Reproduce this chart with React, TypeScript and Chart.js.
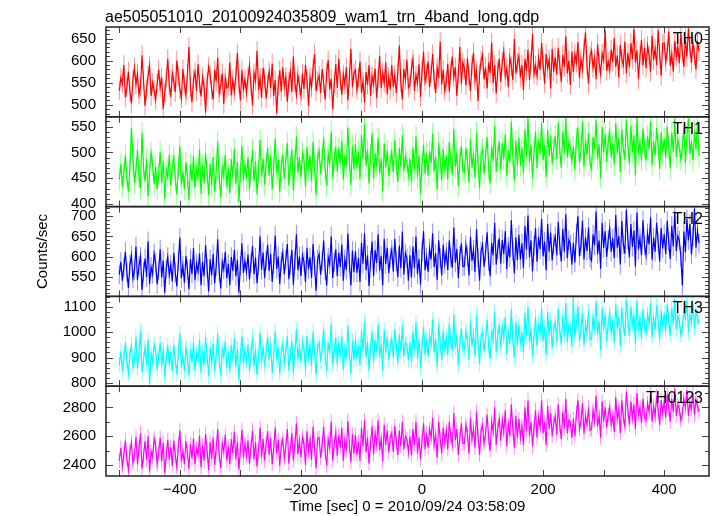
import React, { useEffect, useRef } from 'react';
import { Chart, registerables } from 'chart.js';

Chart.register(...registerables);

const FONT = '"Liberation Sans", Arial, Helvetica, sans-serif';
const TITLE = 'ae505051010_20100924035809_wam1_trn_4band_long.qdp';
const X_LABEL = 'Time [sec] 0 = 2010/09/24 03:58:09';
const Y_LABEL = 'Counts/sec';

const T_START = -500;
const T_STEP = 2.5;
const X_MIN = -522;
const X_MAX = 474;
const xTickValues = [-400, -200, 0, 200, 400];
const X_MINOR_STEP = 100;

const panelNames = ['TH0', 'TH1', 'TH2', 'TH3', 'TH0123'];
const panelColors = ['#ff0000', '#00ff00', '#0000ff', '#00ffff', '#ff00ff'];
const errColors = ['rgba(255,0,0,0.45)', 'rgba(0,255,0,0.45)', 'rgba(0,0,255,0.45)', 'rgba(0,255,255,0.5)', 'rgba(255,0,255,0.45)'];
const yMins = [473, 395, 501, 787, 2324];
const yMaxs = [676, 569, 724, 1141, 2947];
const yTickValues = [
  [500, 550, 600, 650],
  [400, 450, 500, 550],
  [550, 600, 650, 700],
  [800, 900, 1000, 1100],
  [2400, 2600, 2800],
];
const yMinor = [10, 10, 10, 20, 100];
const yMajor = [50, 50, 50, 100, 200];
const yErr = [22, 21, 24, 30, 50];

const th0 = [
  532, 561, 548, 590, 517, 540, 575, 529, 503, 558, 584, 546,
  570, 523, 541, 612, 555, 498, 536, 567, 589, 520, 550, 533,
  511, 548, 580, 539, 562, 491, 527, 559, 604, 544, 518, 571,
  553, 529, 600, 565, 536, 514, 581, 547, 522, 569, 631, 540,
  506, 557, 574, 531, 592, 548, 519, 563, 540, 483, 552, 586,
  568, 535, 512, 579, 553, 607, 526, 545, 571, 502, 560, 538,
  542, 596, 521, 556, 530, 565, 617, 549, 510, 578, 536, 557,
  527, 563, 589, 541, 500, 572, 555, 622, 534, 561, 516, 583,
  559, 514, 547, 576, 538, 593, 520, 556, 481, 545, 578, 530,
  585, 541, 563, 507, 552, 575, 529, 609, 550, 523, 566, 544,
  520, 571, 536, 590, 558, 497, 562, 540, 583, 615, 531, 554,
  566, 527, 581, 549, 512, 573, 601, 535, 559, 490, 548, 592,
  538, 604, 555, 523, 569, 546, 585, 510, 561, 627, 540, 572,
  579, 534, 561, 598, 527, 553, 506, 574, 545, 590, 520, 566,
  547, 582, 515, 560, 611, 538, 572, 549, 596, 524, 563, 535,
  590, 541, 568, 527, 575, 634, 550, 512, 581, 557, 602, 539,
  545, 583, 603, 531, 567, 550, 592, 518, 576, 620, 553, 571,
  598, 540, 572, 615, 556, 527, 584, 561, 643, 546, 579, 532,
  551, 593, 530, 578, 609, 562, 585, 520, 570, 631, 548, 596,
  582, 544, 605, 566, 531, 590, 618, 555, 576, 509, 569, 600,
  613, 558, 585, 537, 596, 572, 641, 549, 590, 526, 575, 604,
  552, 598, 621, 565, 583, 540, 607, 587, 556, 649, 571, 595,
  610, 562, 590, 533, 604, 577, 625, 556, 598, 660, 570, 589,
  565, 606, 579, 640, 591, 548, 615, 583, 602, 537, 627, 575,
  608, 569, 629, 590, 552, 613, 586, 655, 571, 600, 545, 620,
  574, 615, 596, 642, 560, 603, 581, 627, 664, 589, 548, 610,
  622, 583, 605, 558, 637, 594, 570, 616, 601, 668, 577, 598,
  579, 625, 597, 651, 586, 612, 562, 635, 604, 590, 643, 571,
  617, 585, 640, 603, 672, 596, 623, 558, 611, 647, 589, 629,
  583, 634, 612, 574, 656, 601, 627, 590, 669, 615, 566, 638,
  640, 597, 621, 666, 588, 615, 575, 645, 609, 631, 594, 662,
  618, 586, 650, 609, 673, 628, 595, 639, 612, 580, 645, 621,
];

const th1 = [
  447, 478, 433, 462, 494, 451, 425, 470, 548, 489, 441, 466,
  505, 452, 430, 538, 470, 444, 487, 415, 461, 499, 476, 438,
  472, 429, 458, 501, 441, 483, 410, 467, 452, 495, 436, 474,
  490, 446, 419, 470, 512, 437, 463, 428, 481, 455, 408, 477,
  444, 493, 431, 468, 452, 506, 420, 475, 440, 498, 461, 417,
  478, 436, 491, 424, 464, 521, 449, 413, 472, 455, 496, 433,
  469, 421, 487, 450, 507, 439, 481, 404, 460, 512, 446, 476,
  450, 491, 429, 468, 505, 444, 483, 419, 465, 524, 453, 488,
  438, 479, 509, 455, 493, 428, 470, 527, 460, 486, 423, 474,
  496, 449, 484, 518, 436, 471, 505, 426, 480, 531, 461, 491,
  452, 499, 485, 434, 511, 466, 494, 444, 520, 472, 418, 489,
  503, 458, 490, 529, 467, 435, 498, 480, 540, 450, 487, 511,
  462, 509, 479, 523, 447, 495, 473, 548, 486, 436, 513, 467,
  516, 470, 501, 448, 533, 488, 555, 474, 505, 440, 494, 537,
  449, 498, 473, 528, 459, 488, 425, 517, 471, 503, 454, 482,
  500, 461, 524, 478, 443, 509, 472, 533, 464, 492, 481, 455,
  487, 443, 510, 466, 531, 452, 494, 420, 476, 515, 458, 498,
  455, 502, 479, 536, 463, 492, 428, 519, 484, 446, 507, 470,
  493, 447, 520, 481, 458, 546, 472, 500, 435, 488, 512, 465,
  461, 509, 484, 442, 525, 470, 498, 451, 538, 479, 430, 496,
  507, 458, 492, 530, 468, 440, 512, 483, 551, 462, 495, 521,
  466, 518, 487, 535, 454, 503, 481, 560, 494, 445, 522, 475,
  528, 474, 510, 459, 545, 492, 566, 481, 515, 450, 503, 540,
  470, 525, 497, 557, 485, 514, 452, 544, 493, 531, 478, 508,
  532, 487, 558, 505, 470, 541, 498, 566, 490, 520, 509, 483,
  511, 466, 527, 548, 480, 503, 560, 472, 525, 495, 538, 478,
  468, 530, 505, 563, 487, 516, 451, 549, 500, 535, 482, 521,
  540, 490, 518, 476, 557, 499, 528, 462, 545, 507, 486, 563,
  515, 478, 552, 501, 533, 456, 568, 497, 520, 485, 546, 508,
  484, 531, 506, 560, 475, 522, 494, 547, 513, 468, 539, 500,
  527, 489, 550, 512, 470, 538, 501, 565, 491, 524, 510, 486,
  512, 548, 479, 531, 566, 497, 522, 485, 543, 505, 560, 493,
];

const th2 = [
  555, 587, 540, 573, 612, 561, 522, 580, 603, 546, 566, 625,
  541, 578, 600, 517, 562, 595, 549, 638, 531, 574, 557, 607,
  584, 531, 566, 618, 548, 590, 510, 571, 599, 554, 580, 538,
  609, 560, 526, 588, 647, 546, 577, 535, 601, 567, 519, 594,
  557, 621, 541, 582, 563, 608, 529, 587, 551, 628, 571, 513,
  593, 553, 606, 534, 576, 643, 561, 521, 586, 568, 612, 546,
  582, 529, 599, 565, 617, 551, 592, 511, 577, 633, 559, 589,
  562, 605, 543, 584, 626, 556, 598, 534, 579, 650, 567, 610,
  547, 591, 629, 564, 607, 537, 583, 652, 569, 600, 531, 588,
  609, 556, 592, 631, 544, 578, 617, 530, 589, 655, 566, 600,
  552, 603, 587, 536, 622, 568, 598, 547, 631, 577, 515, 593,
  606, 555, 589, 640, 566, 528, 598, 581, 650, 547, 586, 618,
  551, 609, 574, 630, 540, 593, 567, 657, 583, 528, 615, 561,
  613, 560, 597, 537, 634, 582, 658, 566, 603, 527, 590, 637,
  551, 616, 584, 655, 565, 602, 528, 644, 581, 622, 559, 597,
  617, 563, 644, 588, 549, 627, 571, 662, 555, 608, 596, 540,
  603, 548, 625, 571, 650, 556, 594, 530, 612, 663, 566, 598,
  562, 620, 593, 658, 574, 608, 541, 640, 597, 553, 629, 582,
  611, 566, 640, 598, 572, 672, 585, 619, 546, 603, 633, 575,
  576, 628, 601, 553, 649, 589, 617, 562, 668, 597, 540, 613,
  629, 575, 612, 660, 588, 551, 634, 603, 684, 580, 617, 645,
  582, 641, 606, 663, 569, 625, 598, 690, 614, 558, 647, 591,
  654, 592, 633, 571, 676, 617, 702, 598, 640, 563, 626, 671,
  587, 649, 618, 694, 601, 637, 566, 681, 612, 659, 590, 631,
  650, 603, 686, 627, 588, 669, 612, 705, 596, 641, 630, 580,
  634, 585, 657, 700, 601, 625, 689, 593, 648, 614, 672, 597,
  590, 655, 628, 712, 606, 640, 570, 684, 621, 663, 599, 642,
  669, 612, 645, 596, 703, 622, 651, 580, 688, 630, 607, 716,
  642, 598, 681, 624, 664, 575, 709, 617, 646, 603, 690, 628,
  603, 658, 630, 697, 592, 647, 612, 684, 636, 588, 671, 620,
  655, 606, 689, 637, 594, 676, 625, 711, 613, 651, 640, 600,
  528, 662, 611, 693, 640, 681, 605, 650, 719, 622, 664, 633,
];

const th3 = [
  872, 925, 848, 899, 960, 884, 838, 913, 948, 863, 893, 980,
  857, 918, 1005, 842, 890, 941, 871, 970, 795, 913, 884, 952,
  928, 852, 903, 958, 866, 933, 822, 899, 948, 871, 923, 847,
  950, 888, 836, 921, 995, 861, 907, 846, 941, 898, 829, 930,
  881, 960, 849, 915, 892, 970, 838, 926, 868, 980, 906, 826,
  940, 873, 955, 848, 911, 993, 887, 829, 931, 902, 964, 858,
  920, 845, 948, 893, 975, 864, 937, 812, 907, 986, 875, 931,
  885, 950, 846, 914, 980, 866, 934, 831, 905, 999, 881, 944,
  864, 928, 981, 890, 953, 840, 908, 1005, 893, 942, 836, 921,
  955, 878, 926, 984, 849, 912, 966, 838, 921, 1010, 892, 946,
  881, 960, 936, 851, 985, 906, 950, 867, 1000, 921, 832, 944,
  958, 885, 939, 1012, 900, 847, 952, 925, 1035, 870, 930, 980,
  873, 960, 907, 985, 852, 937, 898, 1025, 918, 836, 965, 889,
  975, 893, 946, 868, 1005, 927, 1040, 902, 960, 848, 937, 1000,
  882, 970, 925, 1030, 900, 955, 850, 1010, 920, 980, 890, 945,
  975, 900, 1010, 940, 880, 990, 925, 1025, 905, 960, 950, 890,
  960, 885, 1000, 930, 1040, 895, 970, 860, 945, 1020, 910, 975,
  905, 985, 950, 1050, 920, 975, 865, 1030, 955, 890, 1005, 935,
  980, 910, 1035, 965, 925, 1070, 940, 990, 870, 955, 1015, 930,
  930, 1005, 965, 890, 1045, 945, 990, 905, 1065, 960, 875, 985,
  1000, 925, 975, 1050, 945, 895, 1010, 970, 1080, 920, 985, 1030,
  940, 1025, 980, 1060, 915, 1005, 955, 1090, 975, 900, 1040, 950,
  1030, 950, 1000, 920, 1075, 985, 1100, 960, 1015, 905, 990, 1060,
  945, 1035, 990, 1095, 965, 1020, 910, 1080, 985, 1050, 940, 1005,
  1040, 965, 1090, 1010, 950, 1065, 985, 1115, 960, 1030, 1020, 945,
  1138, 980, 1040, 1100, 965, 1010, 1075, 950, 1030, 995, 1085, 970,
  975, 1060, 1020, 1120, 990, 1045, 930, 1095, 1010, 1070, 965, 1035,
  1075, 995, 1040, 960, 1110, 1015, 1060, 945, 1095, 1025, 985, 1130,
  1045, 985, 1100, 1030, 1070, 955, 1125, 1010, 1055, 975, 1090, 1025,
  995, 1070, 1035, 1115, 980, 1060, 1010, 1105, 1040, 970, 1085, 1020,
  1075, 1005, 1110, 1050, 985, 1095, 1030, 1130, 1010, 1065, 1045, 990,
  1020, 1085, 1055, 1125, 1000, 1070, 1040, 1110, 1015, 1080, 1060, 1035,
];

const th0123 = [
  2430, 2520, 2390, 2475, 2570, 2445, 2365, 2495, 2555, 2415, 2470, 2595,
  2405, 2515, 2620, 2375, 2465, 2565, 2435, 2600, 2355, 2495, 2455, 2585,
  2535, 2405, 2485, 2590, 2425, 2555, 2345, 2475, 2575, 2435, 2525, 2395,
  2570, 2465, 2385, 2535, 2640, 2425, 2495, 2405, 2565, 2485, 2375, 2545,
  2445, 2585, 2405, 2515, 2470, 2605, 2385, 2535, 2430, 2615, 2495, 2365,
  2560, 2440, 2590, 2400, 2515, 2650, 2465, 2380, 2550, 2495, 2610, 2430,
  2530, 2405, 2580, 2480, 2630, 2440, 2560, 2370, 2505, 2645, 2450, 2550,
  2465, 2570, 2410, 2525, 2640, 2440, 2560, 2390, 2505, 2660, 2455, 2580,
  2430, 2545, 2635, 2470, 2585, 2405, 2515, 2660, 2480, 2575, 2395, 2535,
  2580, 2445, 2530, 2650, 2410, 2515, 2620, 2430, 2545, 2690, 2475, 2570,
  2455, 2595, 2545, 2400, 2635, 2495, 2575, 2435, 2665, 2515, 2380, 2585,
  2590, 2450, 2540, 2665, 2490, 2395, 2580, 2520, 2700, 2430, 2550, 2625,
  2465, 2610, 2520, 2660, 2430, 2570, 2500, 2705, 2540, 2420, 2615, 2480,
  2610, 2470, 2560, 2430, 2660, 2530, 2710, 2490, 2590, 2410, 2550, 2670,
  2475, 2620, 2545, 2710, 2505, 2580, 2425, 2680, 2540, 2640, 2490, 2590,
  2620, 2490, 2670, 2560, 2470, 2640, 2530, 2700, 2510, 2600, 2580, 2490,
  2600, 2470, 2650, 2540, 2700, 2480, 2590, 2440, 2570, 2690, 2510, 2620,
  2520, 2650, 2590, 2730, 2540, 2610, 2450, 2700, 2580, 2480, 2660, 2560,
  2640, 2510, 2700, 2600, 2540, 2760, 2570, 2650, 2470, 2590, 2690, 2550,
  2550, 2680, 2610, 2480, 2730, 2580, 2650, 2520, 2770, 2600, 2470, 2640,
  2680, 2550, 2620, 2750, 2590, 2500, 2700, 2630, 2800, 2540, 2650, 2720,
  2570, 2710, 2630, 2780, 2530, 2680, 2600, 2820, 2650, 2520, 2740, 2590,
  2720, 2590, 2670, 2540, 2800, 2640, 2850, 2600, 2700, 2530, 2660, 2780,
  2590, 2730, 2660, 2850, 2620, 2700, 2540, 2810, 2650, 2760, 2600, 2690,
  2740, 2610, 2820, 2680, 2580, 2770, 2650, 2860, 2620, 2710, 2700, 2590,
  2720, 2600, 2760, 2850, 2650, 2700, 2830, 2620, 2740, 2680, 2800, 2640,
  2650, 2780, 2710, 2880, 2670, 2740, 2590, 2840, 2700, 2800, 2660, 2750,
  2800, 2680, 2740, 2630, 2870, 2720, 2790, 2620, 2850, 2730, 2670, 2910,
  2780, 2680, 2840, 2730, 2820, 2650, 2900, 2750, 2800, 2690, 2860, 2740,
  2710, 2830, 2770, 2900, 2700, 2810, 2740, 2880, 2780, 2680, 2850, 2760,
  2840, 2730, 2890, 2800, 2700, 2860, 2770, 2930, 2740, 2820, 2790, 2710,
  2760, 2860, 2800, 2920, 2740, 2830, 2790, 2900, 2750, 2850, 2810, 2770,
];

const seriesValues = [th0, th1, th2, th3, th0123];

const fmt = (v: number) => String(v).replace('-', '\u2212');

const errorBarPlugin = {
  id: 'qdpErrorBars',
  beforeDatasetsDraw(chart: any) {
    const ctx = chart.ctx as CanvasRenderingContext2D;
    const xs = chart.scales.x;
    ctx.save();
    ctx.lineWidth = 1;
    seriesValues.forEach((vals, i) => {
      const ys = chart.scales['y' + i];
      ctx.strokeStyle = errColors[i];
      ctx.beginPath();
      vals.forEach((v, k) => {
        const px = xs.getPixelForValue(T_START + k * T_STEP);
        const y1 = Math.max(ys.top, ys.getPixelForValue(v + yErr[i]));
        const y2 = Math.min(ys.bottom, ys.getPixelForValue(v - yErr[i]));
        ctx.moveTo(px, y1);
        ctx.lineTo(px, y2);
      });
      ctx.stroke();
    });
    ctx.restore();
  },
};

const framePlugin = {
  id: 'qdpFrames',
  afterDraw(chart: any) {
    const ctx = chart.ctx as CanvasRenderingContext2D;
    const { left, right, top: areaTop, bottom: areaBottom } = chart.chartArea;
    const xs = chart.scales.x;
    ctx.save();
    panelNames.forEach((name, i) => {
      const ys = chart.scales['y' + i];
      const top = ys.top;
      const bottom = ys.bottom;
      ctx.strokeStyle = '#444';
      ctx.lineWidth = 1;
      ctx.beginPath();
      for (let t = Math.ceil(X_MIN / X_MINOR_STEP) * X_MINOR_STEP; t <= X_MAX; t += X_MINOR_STEP) {
        const px = Math.round(xs.getPixelForValue(t)) + 0.5;
        ctx.moveTo(px, top);
        ctx.lineTo(px, top + 6);
        ctx.moveTo(px, bottom);
        ctx.lineTo(px, bottom - 6);
      }
      const mn = yMinor[i];
      for (let v = Math.ceil(yMins[i] / mn) * mn; v <= yMaxs[i]; v += mn) {
        const py = Math.round(ys.getPixelForValue(v)) + 0.5;
        const len = v % yMajor[i] === 0 ? 7 : 4;
        ctx.moveTo(left, py);
        ctx.lineTo(left + len, py);
        ctx.moveTo(right, py);
        ctx.lineTo(right - len, py);
      }
      ctx.stroke();
      ctx.strokeStyle = '#222';
      ctx.lineWidth = 1.5;
      ctx.strokeRect(left, top, right - left, bottom - top);
      ctx.fillStyle = '#000';
      ctx.font = '16px ' + FONT;
      ctx.textAlign = 'right';
      ctx.textBaseline = 'alphabetic';
      ctx.fillText(name, right - 6, top + 17);
    });
    ctx.fillStyle = '#000';
    ctx.font = '16px ' + FONT;
    ctx.textAlign = 'left';
    ctx.textBaseline = 'alphabetic';
    ctx.fillText(TITLE, 105, 22);
    ctx.save();
    ctx.translate(43, (areaTop + areaBottom) / 2);
    ctx.rotate(-Math.PI / 2);
    ctx.textAlign = 'center';
    ctx.textBaseline = 'middle';
    ctx.font = '15px ' + FONT;
    ctx.fillText(Y_LABEL, 0, 0);
    ctx.restore();
    ctx.restore();
  },
};

export default function App() {
  const ref = useRef<HTMLCanvasElement>(null);
  useEffect(() => {
    if (!ref.current) return;
    const scales: any = {
      x: {
        type: 'linear',
        min: X_MIN,
        max: X_MAX,
        bounds: 'data',
        grid: { display: false, drawTicks: false },
        border: { display: false },
        afterBuildTicks: (s: any) => { s.ticks = xTickValues.map((value) => ({ value })); },
        ticks: {
          autoSkip: false,
          maxRotation: 0,
          padding: 5,
          color: '#000',
          font: { size: 15, family: FONT },
          callback: (v: any) => fmt(v),
        },
        title: { display: true, text: X_LABEL, color: '#000', font: { size: 15, family: FONT }, padding: { top: 0, bottom: 0 } },
        afterFit: (s: any) => { s.height = 40; },
      },
    };
    for (let i = panelNames.length - 1; i >= 0; i--) {
      scales['y' + i] = {
        type: 'linear',
        position: 'left',
        stack: 'panels',
        stackWeight: 1,
        min: yMins[i],
        max: yMaxs[i],
        bounds: 'data',
        grid: { display: false, drawTicks: false },
        border: { display: false },
        afterBuildTicks: (s: any) => { s.ticks = yTickValues[i].map((value) => ({ value })); },
        ticks: {
          autoSkip: false,
          padding: 10,
          color: '#000',
          font: { size: 15, family: FONT },
          callback: (v: any) => fmt(v),
        },
        afterFit: (s: any) => { s.width = 106; },
      };
    }
    const datasets = seriesValues.map((vals, i) => ({
      label: panelNames[i],
      data: vals.map((y, k) => ({ x: T_START + k * T_STEP, y })),
      xAxisID: 'x',
      yAxisID: 'y' + i,
      borderColor: panelColors[i],
      backgroundColor: panelColors[i],
      borderWidth: 1.2,
      pointRadius: 0,
      fill: false,
      tension: 0,
    }));
    const chart = new Chart(ref.current, {
      type: 'line',
      data: { datasets },
      options: {
        responsive: false,
        animation: false,
        layout: { padding: { top: 27, right: 8, left: 0, bottom: 0 } },
        plugins: { legend: { display: false }, title: { display: false }, tooltip: { enabled: false } },
        scales,
      },
      plugins: [errorBarPlugin, framePlugin],
    } as any);
    return () => chart.destroy();
  }, []);
  return (
    <canvas
      ref={ref}
      width={717}
      height={516}
      style={{ position: 'absolute', left: 0, top: 0, width: 717, height: 516, background: '#fff' }}
    />
  );
}
